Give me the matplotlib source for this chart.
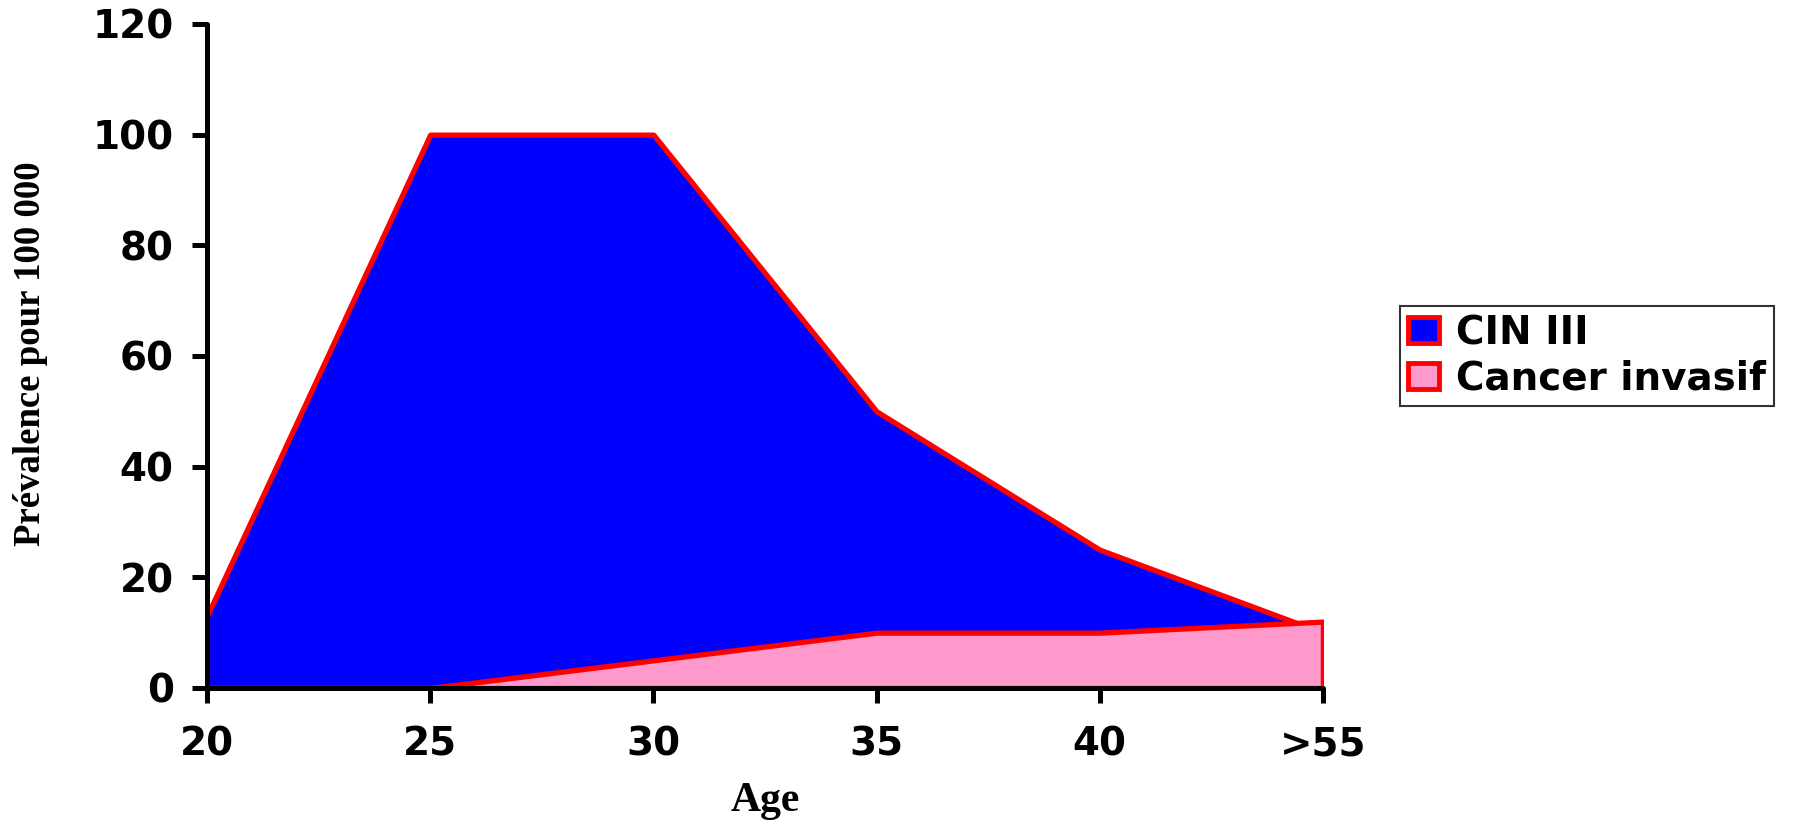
import matplotlib
matplotlib.use("Agg")
import matplotlib.pyplot as plt
from matplotlib.patches import Patch
import numpy as np

categories = ["20", "25", "30", "35", "40", ">55"]
cin3 = [13, 100, 100, 50, 25, 10]
cancer = [0, 0, 5, 10, 10, 12]
yticks = [0, 20, 40, 60, 80, 100, 120]

BLUE = "#0000FF"
PINK = "#FF99CC"
RED = "#FF0000"

fig = plt.figure(figsize=(17.95, 8.21), dpi=100)
ax = fig.add_axes([0.1153, 0.162, 0.6217, 0.8088])

x = np.arange(len(categories))
ax.fill_between(x, 0, cin3, facecolor=BLUE, edgecolor=RED, linewidth=3.8, zorder=1)
ax.fill_between(x, 0, cancer, facecolor=PINK, edgecolor=RED, linewidth=3.8, zorder=1.1)

ax.set_xlim(0, len(categories) - 1)
ax.set_ylim(0, 120)
ax.set_xticks(x)
ax.set_xticklabels(categories)
ax.set_yticks(yticks)

for s in ["top", "right"]:
    ax.spines[s].set_visible(False)
for s in ["left", "bottom"]:
    ax.spines[s].set_linewidth(3.6)
    ax.spines[s].set_zorder(3)
    ax.spines[s].set_capstyle("round")

ax.tick_params(axis="both", direction="out", length=11, width=3.6,
               labelsize=28, pad=13)
ax.tick_params(axis="x", pad=16)
for lab in ax.get_xticklabels() + ax.get_yticklabels():
    lab.set_fontweight("bold")
    lab.set_family("DejaVu Sans")

fig.text(31 / 1795, 1 - 354 / 821, "Prévalence pour 100 000", family="Liberation Serif",
         fontweight="bold", fontsize=26.5, rotation=90, ha="center", va="center")
fig.text(765 / 1795, 1 - 801 / 821, "Age", family="Liberation Serif",
         fontweight="bold", fontsize=30, ha="center", va="center")

handles = [Patch(facecolor=BLUE, edgecolor=RED, linewidth=3.5),
           Patch(facecolor=PINK, edgecolor=RED, linewidth=3.5)]
leg = fig.legend(handles, ["CIN III", "Cancer invasif"],
                 loc="upper left", bbox_to_anchor=(0.780, 0.627),
                 borderaxespad=0, fancybox=False, frameon=True,
                 prop={"family": "DejaVu Sans", "weight": "bold", "size": 28},
                 handlelength=0.8, handleheight=0.65, handletextpad=0.45,
                 labelspacing=0.2, borderpad=0.2)
leg.get_frame().set_edgecolor("black")
leg.get_frame().set_linewidth(1.5)

fig.savefig("out.png", dpi=100)
